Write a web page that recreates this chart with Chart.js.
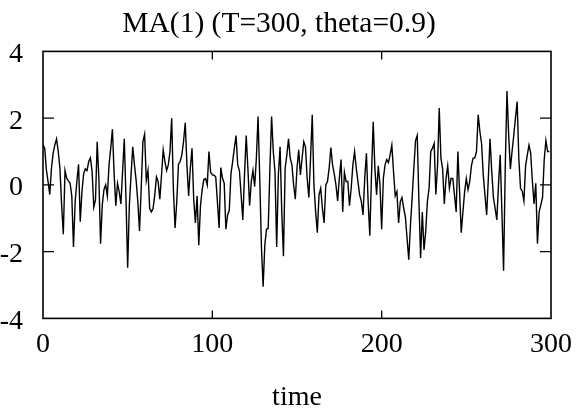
<!DOCTYPE html>
<html>
<head>
<meta charset="utf-8">
<script src="https://cdn.jsdelivr.net/npm/chart.js@4"></script>
<style>
  html, body { margin: 0; padding: 0; background: #fff; }
  #wrap { width: 584px; height: 418px; }
</style>
</head>
<body>
<div id="wrap"><canvas id="ma1"></canvas></div>
<script>
// MA(1) series (t = 0..299)
var series = [
  1.19, 1.1, 0.45, 0.1, -0.29, 0.5, 0.95, 1.2, 1.38, 1.0,
  0.5, -0.6, -1.48, 0.43, 0.2, 0.12, 0.05, -0.33, -1.86, -0.5,
  0.1, 0.62, -1.1, -0.2, 0.33, 0.48, 0.43, 0.7, 0.81, 0.4,
  -0.67, -0.45, 1.29, 0.2, -1.76, -0.6, -0.14, 0.0, -0.33, 0.6,
  1.1, 1.67, 0.33, -0.62, 0.05, -0.2, -0.57, 0.4, 1.38, -0.4,
  -2.48, -0.6, 0.3, 1.14, 0.6, 0.14, -0.5, -1.38, -0.1, 1.29,
  1.52, 0.14, 0.43, -0.71, -0.81, -0.71, -0.3, 0.24, 0.1, -0.43,
  0.3, 1.05, 0.7, 0.43, 0.6, 1.0, 2.0, -0.14, -1.29, -0.5,
  0.62, 0.7, 0.9, 1.3, 1.86, 0.6, -0.33, 0.5, 1.1, -0.43,
  -1.14, -0.33, -1.81, -0.62, -0.14, 0.16, 0.19, 0.0, 1.0, 0.38,
  0.3, 0.29, 0.24, -0.5, -1.29, 0.52, 0.2, 0.05, -1.33, -0.9,
  -0.76, 0.33, 0.7, 1.1, 1.48, 0.6, 0.43, -0.3, -1.05, 0.3,
  1.48, 0.5, -0.62, 0.1, 0.43, -0.05, 0.8, 2.05, 0.2, -1.86,
  -3.05, -1.8, -1.33, -1.3, 0.5, 2.05, 1.0, 0.4, -1.86, 0.3,
  1.14, -0.8, -2.14, 0.5, 0.9, 1.38, 0.8, 0.6, 0.0, -0.43,
  0.5, 1.05, 0.3, 0.8, 1.29, 1.14, 0.2, -0.38, 0.8, 2.1,
  0.0, -0.8, -1.43, -0.3, -0.1, -0.7, -1.14, 0.0, 0.1, 0.5,
  1.12, 0.6, 0.33, 0.0, -0.48, 0.2, 0.76, -0.81, 0.38, 0.1,
  0.1, -0.62, -0.1, 0.6, 1.0, 0.5, 0.1, -0.3, -0.5, -0.9,
  0.2, 0.95, -0.5, -1.52, 0.3, 1.89, 0.5, -0.3, 0.57, 0.0,
  -1.33, 0.2, 0.6, 0.76, 0.67, 0.9, 1.19, 0.4, -0.33, -0.2,
  -1.14, -0.5, -0.38, -0.7, -0.95, -1.6, -2.24, -1.2, -0.38, 0.5,
  1.33, 1.48, -0.5, -2.19, -0.81, -1.95, -1.4, -0.5, -0.1, 1.0,
  1.1, 1.24, -0.29, 0.57, 2.3, 0.8, 0.48, -0.57, 0.2, 0.57,
  -0.1, 0.2, 0.19, -0.3, -0.81, 1.0, -0.2, -1.43, -0.8, -0.2,
  0.19, -0.14, 0.1, 0.57, 0.8, 0.81, 1.0, 2.1, 1.6, 1.24,
  0.3, -0.3, -0.9, 0.2, 1.38, 0.4, -0.38, -0.7, -1.05, 0.0,
  0.9, -0.8, -2.57, 0.57, 2.81, 1.5, 0.48, 1.0, 1.48, 2.0,
  2.5, 0.8, -0.1, -0.19, -0.48, 0.57, 0.9, 1.19, 0.95, 0.1,
  -0.57, 0.05, -1.76, -0.81, -0.6, -0.38, 0.76, 1.33, 1.0, 1.0
];
var times = series.map(function (v, i) { return i; });
var xTicks = [0, 100, 200, 300];
var yTicks = [-4, -2, 0, 2, 4];

var serif = "'Liberation Serif', 'DejaVu Serif', serif";

// box round the plot with short ticks pointing inwards
var framePlugin = {
  id: 'frame',
  afterDraw: function (chart) {
    var ctx = chart.ctx, a = chart.chartArea;
    var xs = chart.scales.x, ys = chart.scales.y;
    ctx.save();
    ctx.strokeStyle = '#000';
    ctx.lineWidth = 1.6;
    ctx.strokeRect(a.left, a.top, a.right - a.left, a.bottom - a.top);
    ctx.lineWidth = 1.3;
    ctx.beginPath();
    xTicks.slice(1, -1).forEach(function (t) {
      var px = xs.getPixelForValue(t);
      ctx.moveTo(px, a.bottom); ctx.lineTo(px, a.bottom - 8);
      ctx.moveTo(px, a.top); ctx.lineTo(px, a.top + 8);
    });
    yTicks.slice(1, -1).forEach(function (t) {
      var py = ys.getPixelForValue(t);
      ctx.moveTo(a.left, py); ctx.lineTo(a.left + 11, py);
      ctx.moveTo(a.right, py); ctx.lineTo(a.right - 11, py);
    });
    ctx.stroke();
    ctx.restore();
  }
};

var ctx = document.getElementById('ma1').getContext('2d');
var chart = new Chart(ctx, {
  type: 'line',
  data: {
    labels: times,
    datasets: [{
      data: series,
      borderColor: '#000',
      borderWidth: 1.4,
      pointRadius: 0,
      tension: 0,
      fill: false
    }]
  },
  options: {
    responsive: true,
    maintainAspectRatio: false,
    animation: false,
    layout: { padding: { left: 0, right: 26, top: 0, bottom: 2 } },
    plugins: {
      legend: { display: false },
      tooltip: { enabled: false },
      title: {
        display: true,
        text: 'MA(1) (T=300, theta=0.9)',
        color: '#000',
        font: { family: serif, size: 29.5, weight: 'normal', lineHeight: 1.2 },
        padding: { top: 7, bottom: 9 }
      }
    },
    scales: {
      x: {
        type: 'linear',
        min: 0, max: 300,
        afterBuildTicks: function (s) { s.ticks = xTicks.map(function (v) { return { value: v }; }); },
        grid: { display: false, drawTicks: false },
        border: { display: false },
        ticks: { color: '#000', padding: 12, maxRotation: 0, font: { family: serif, size: 28, lineHeight: 1.0 } },
        title: {
          display: true, text: 'time', color: '#000',
          font: { family: serif, size: 28, lineHeight: 1.2 },
          padding: { top: 10, bottom: 2 }
        }
      },
      y: {
        min: -4, max: 4,
        afterBuildTicks: function (s) { s.ticks = yTicks.map(function (v) { return { value: v }; }); },
        afterFit: function (s) { s.width = 43; },
        grid: { display: false, drawTicks: false },
        border: { display: false },
        ticks: { color: '#000', padding: 20, labelOffset: 3, font: { family: serif, size: 28, lineHeight: 1.2 } }
      }
    }
  },
  plugins: [framePlugin]
});
</script>
</body>
</html>
